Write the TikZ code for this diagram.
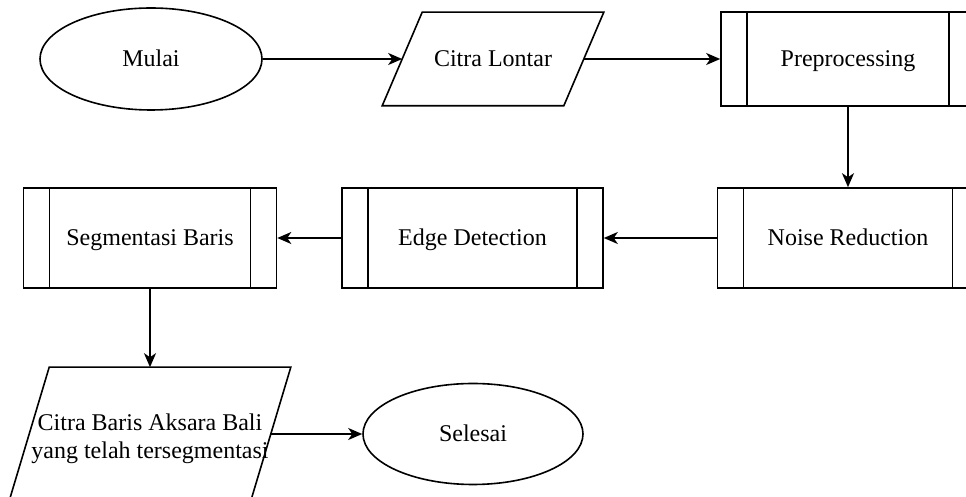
\documentclass[tikz,border=0pt]{standalone}
\usepackage{fontspec}
\setmainfont{Liberation Serif}
\usepackage{tikz}
\usetikzlibrary{shapes.geometric,arrows,arrows.meta,calc}

\begin{document}
\begin{tikzpicture}[
x=0.5pt, y=-0.5pt,
line width=0.8pt,
every node/.style={
  font=\rmfamily\fontsize{12pt}{14pt}\selectfont
  },
terminal/.style={
  draw,
  ellipse,
  text height=8pt,
  text depth=0pt,
  minimum width=111pt,
  minimum height=51pt
  },
data/.style={
  draw=none,
  rectangle,
  inner sep=0pt,
  align=center
  },
process/.style={
  draw,
  rectangle,
  text height=8pt,
  text depth=0pt,
  minimum width=130.5pt,
  minimum height=50pt,
  path picture={
    \draw[line width=0.8pt] ([xshift=13pt]path picture bounding box.north west)
      -- ([xshift=13pt]path picture bounding box.south west);
    \draw[line width=0.8pt] ([xshift=-13pt]path picture bounding box.north east)
      -- ([xshift=-13pt]path picture bounding box.south east);
    }
  },
>={Stealth[length=7pt,width=6pt,inset=2pt]}
]
\useasboundingbox (0,0) rectangle (966,497);

% first row
\node[terminal] (mulai) at (151,59) {Mulai};
\node[data, text height=8pt, text depth=0pt, minimum width=90pt, minimum height=46pt]
  (lontar) at (493,59) {Citra Lontar};
\node[process, minimum width=127pt, minimum height=47pt] (prep) at (848,59) {Preprocessing};

% second row
\node[process] (noise) at (848,238) {Noise Reduction};
\node[process] (edge) at (472.5,238) {Edge Detection};
\node[process, minimum width=126.5pt] (segbaris) at (150,238) {Segmentasi Baris};

% third row
\node[data, minimum width=120pt, minimum height=66pt] (hasil) at (150,434)
  {\rule{0pt}{13pt}Citra Baris Aksara Bali\\yang telah tersegmentasi};
\node[terminal, minimum width=110pt, minimum height=50.5pt] (selesai) at (473,434) {Selesai};

% slanted outlines of the data nodes
\draw ([xshift=10pt]lontar.north west) -- ([xshift=10pt]lontar.north east)
  -- ([xshift=-10pt]lontar.south east) -- ([xshift=-10pt]lontar.south west) -- cycle;
\draw ([xshift=10pt]hasil.north west) -- ([xshift=10pt]hasil.north east)
  -- ([xshift=-10pt]hasil.south east) -- ([xshift=-10pt]hasil.south west) -- cycle;

\draw[->] (mulai) -- (lontar);
\draw[->] (lontar) -- (prep);
\draw[->] (prep) -- (noise);
\draw[->] (noise) -- (edge);
\draw[->] (edge) -- (segbaris);
\draw[->] (segbaris) -- (hasil);
\draw[->] (hasil) -- (selesai);

\end{tikzpicture}
\end{document}
